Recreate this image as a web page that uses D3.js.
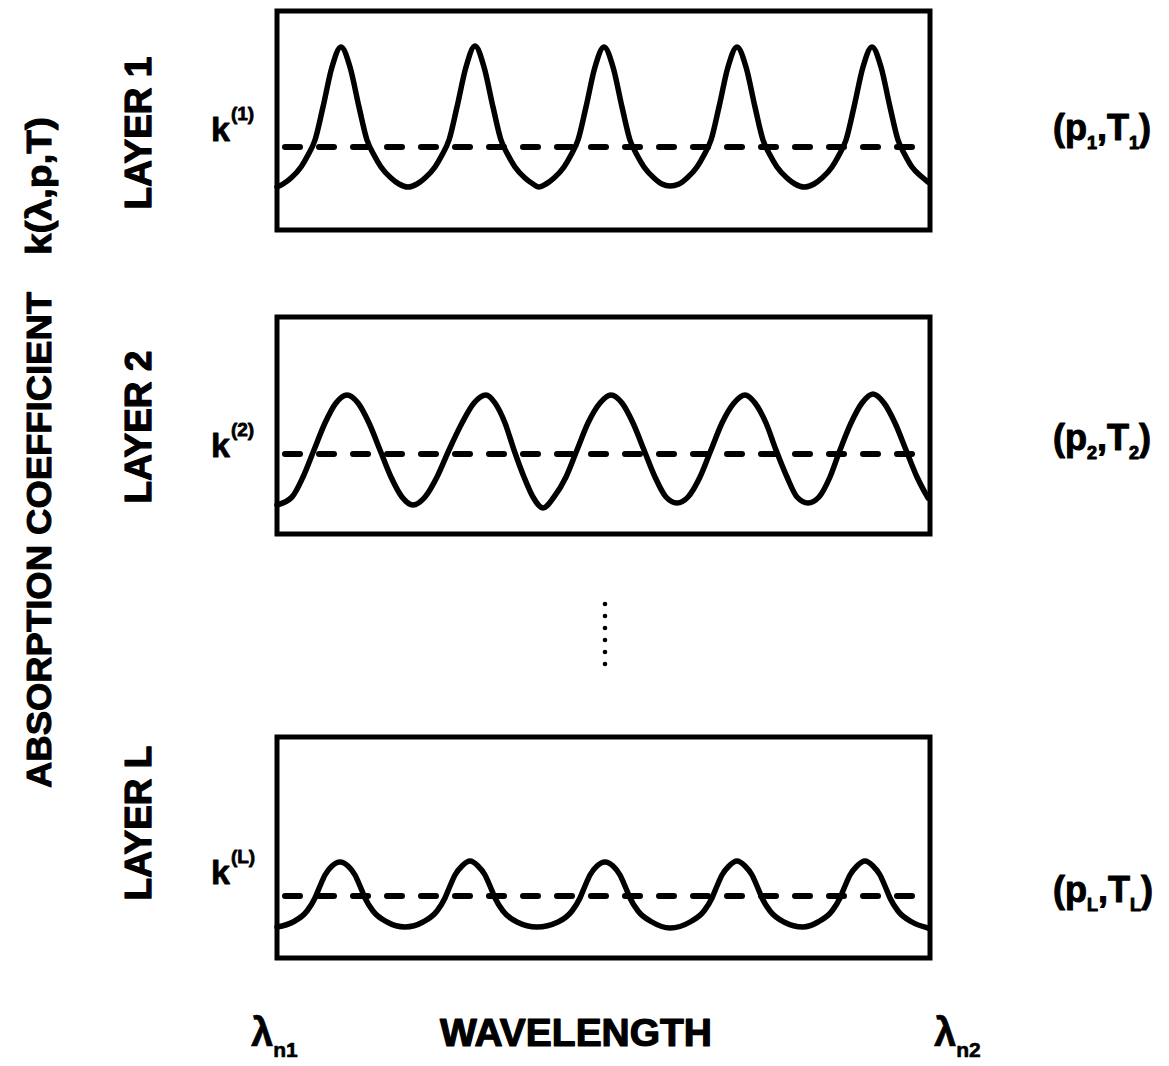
<!DOCTYPE html>
<html><head><meta charset="utf-8">
<script src="https://cdn.jsdelivr.net/npm/d3@7"></script>
<style>body{margin:0;background:#fff}svg{display:block}</style>
</head><body>
<svg id="chart" width="1169" height="1066"></svg>
<script>
// ---- data (arbitrary units: wavelength 0..653 across, k 0..~220 up) ----
const layerNames = ["LAYER 1", "LAYER 2", "LAYER L"];
const layerIndex = ["1", "2", "L"];

const layer1Wavelength = [0,6,14,24,31,38,46,55,64,73,82,90,97,104,114,122,131,140,148,158,165,172,180,189,198,207,216,224,231,238,248,256,262,269,277,287,294,301,309,318,327,336,345,353,360,367,377,385,393,402,410,420,427,434,442,451,460,469,478,486,493,500,510,518,527,537,545,555,562,569,577,586,595,604,613,621,628,635,645,651];
const layer1K = [43,46,52,63,75,90,123,163,183,163,123,90,75,63,52,46,43,46,52,63,75,90,123,163,184,163,123,90,75,63,52,46,43,46,52,63,75,90,123,163,183,163,123,90,75,63,52,46,44,46,52,63,75,90,123,163,183,163,123,90,75,63,52,46,43,46,52,63,75,90,123,163,183,163,123,90,75,63,53,48];

const layer2Wavelength = [0,15,26,37,48,59,70,81,92,103,114,125,136,148,160,172,185,197,209,218,228,237,247,256,266,277,289,300,311,323,334,345,356,367,378,389,400,411,423,434,445,457,468,478,489,499,510,520,531,542,553,563,574,585,596,607,618,629,640,651];
const layer2K = [29,37,57,84,111,131,139,131,111,84,57,37,29,37,57,84,111,131,139,131,111,84,57,37,26,37,57,84,111,131,139,131,111,84,57,37,31,37,57,84,111,131,139,131,111,84,57,37,31,37,57,84,111,131,140,131,111,84,57,36];

const layer3Wavelength = [0,16,30,38,43,48,55,63,71,78,83,88,96,110,128,146,160,168,173,178,185,193,201,208,213,218,226,240,260,281,295,303,308,313,320,328,336,343,348,353,361,375,393,413,427,435,440,445,452,460,468,475,480,485,493,507,526,541,555,563,568,573,580,588,596,603,608,613,621,635,651];
const layer3K = [31,36,47,60,72,83,92,96,92,83,72,60,47,36,31,36,47,60,72,83,92,97,92,83,72,60,47,36,31,36,47,60,72,83,92,96,92,83,72,60,47,36,30,36,47,60,72,83,92,97,92,83,72,60,47,36,31,36,47,60,72,83,92,97,92,83,72,60,47,36,30];

const meanK = [83, 80, 62];   // dashed k^(i) levels

// ---- layout ----
const svg = d3.select("#chart");
const boxLeft = 277, boxRight = 930;
const panels = [{top: 11, bottom: 230}, {top: 317, bottom: 534}, {top: 737, bottom: 958}];
const series = [
  {w: layer1Wavelength, k: layer1K},
  {w: layer2Wavelength, k: layer2K},
  {w: layer3Wavelength, k: layer3K}
];
const x = d3.scaleLinear().domain([0, 653]).range([boxLeft, boxRight]);
const font = "'Liberation Sans', Arial, Helvetica, sans-serif";

const kLabelY = [141, 457, 884];
const stateY = [140, 450, 902];
const layerCenter = [133, 427, 823];

function heavy(sel, w) {
  return sel.attr("font-family", font).attr("font-weight", "bold")
    .attr("fill", "#000").attr("stroke", "#000").attr("stroke-width", w)
    .attr("stroke-linejoin", "round");
}

panels.forEach((p, i) => {
  const y = d3.scaleLinear().domain([0, p.bottom - p.top]).range([p.bottom, p.top]);
  const g = svg.append("g");
  g.append("rect")
    .attr("x", boxLeft).attr("y", p.top)
    .attr("width", boxRight - boxLeft).attr("height", p.bottom - p.top)
    .attr("fill", "none").attr("stroke", "#000").attr("stroke-width", 5);

  const pts = series[i].w.map((w, j) => [w, series[i].k[j]]);
  const line = d3.line().x(d => x(d[0])).y(d => y(d[1])).curve(d3.curveMonotoneX);
  g.append("path").attr("d", line(pts))
    .attr("fill", "none").attr("stroke", "#000").attr("stroke-width", 5.5)
    .attr("stroke-linejoin", "round").attr("stroke-linecap", "round");

  g.append("line")
    .attr("x1", x(8)).attr("x2", x(648))
    .attr("y1", y(meanK[i])).attr("y2", y(meanK[i]))
    .attr("stroke", "#000").attr("stroke-width", 6)
    .attr("stroke-dasharray", "15,19").attr("stroke-linecap", "round");

  // LAYER label (rotated)
  heavy(svg.append("text"), 1.2)
    .attr("transform", `translate(151,${layerCenter[i]}) rotate(-90)`)
    .attr("text-anchor", "middle").attr("font-size", 37)
    .text(layerNames[i]);

  // k^(i) label
  const kt = heavy(svg.append("text"), 0.8)
    .attr("x", 211).attr("y", kLabelY[i]).attr("font-size", 34);
  kt.append("tspan").text("k");
  kt.append("tspan").attr("dy", -21).attr("dx", 1).attr("font-size", 19).text("(" + layerIndex[i] + ")");

  // (p_i, T_i) label
  const st = heavy(svg.append("text"), 1)
    .attr("x", 1053).attr("y", stateY[i]).attr("font-size", 36);
  st.append("tspan").text("(p");
  st.append("tspan").attr("dy", 9).attr("font-size", 18).text(layerIndex[i]);
  st.append("tspan").attr("dy", -9).text(",T");
  st.append("tspan").attr("dy", 9).attr("font-size", 18).text(layerIndex[i]);
  st.append("tspan").attr("dy", -9).text(")");
});

// vertical dots between layer 2 and layer L
const dotIdx = [0, 1, 2, 3, 4, 5];
svg.selectAll("circle.dot").data(dotIdx).join("circle")
  .attr("cx", 605).attr("cy", d => 604 + d * 12).attr("r", 2.3).attr("fill", "#000");

// y-axis title
heavy(svg.append("text"), 1)
  .attr("transform", "translate(51,788) rotate(-90)").attr("font-size", 35)
  .attr("textLength", 496).attr("lengthAdjust", "spacingAndGlyphs")
  .text("ABSORPTION COEFFICIENT");
heavy(svg.append("text"), 1)
  .attr("transform", "translate(51,255) rotate(-90)").attr("font-size", 35)
  .attr("textLength", 138).attr("lengthAdjust", "spacingAndGlyphs")
  .text("k(λ,p,T)");

// x-axis labels
function lam(xp, sub) {
  const t = heavy(svg.append("text"), 0.6).attr("x", xp).attr("y", 1046).attr("font-size", 40);
  t.append("tspan").text("λ");
  t.append("tspan").attr("dy", 11).attr("font-size", 21).text(sub);
}
lam(251, "n1");
lam(934, "n2");
heavy(svg.append("text"), 1.2).attr("x", 440).attr("y", 1046).attr("font-size", 38)
  .attr("textLength", 272).attr("lengthAdjust", "spacingAndGlyphs")
  .text("WAVELENGTH");
</script>
</body></html>
